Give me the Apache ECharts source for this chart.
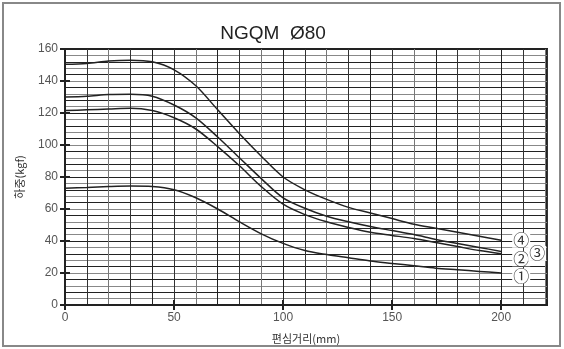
<!DOCTYPE html>
<html>
<head>
<meta charset="utf-8">
<script src="https://cdn.jsdelivr.net/npm/echarts@6/dist/echarts.min.js"></script>
<style>html,body{margin:0;padding:0;background:#fff;}#c{width:564px;height:349px;}</style>
</head>
<body>
<div id="c"></div>
<script>
var xValues = [0,10,20,30,40,50,60,70,80,90,100,110,120,130,140,150,160,170,180,190,200];
var curve1 = [73,73.5,74,74.3,74,72,67,60,52,44.5,38.5,34,31.5,29.5,27.5,26,24.5,23,22,21,20];
var curve2 = [121.5,122,122.5,123,121.5,117,110,99,87,74,63,56.5,52,48.5,45.5,43.5,41.5,39,36.5,34,32];
var curve3 = [130,130.5,131.5,131.7,130.5,125,117,105,92,79,67,60.5,55.5,52,49,46.5,44,41,38.5,36,33.5];
var curve4 = [150.5,151,152.5,153,152,147,137,122,107,93,80,72,66,61,57.5,54,50.5,48,45.5,43,40.5];
var curveNames = ['①','②','③','④'];
var yTicks = [0,20,40,60,80,100,120,140,160];
var xTicks = [0,50,100,150,200];

function pairs(ys){ return xValues.map(function(x,i){ return [x, ys[i]]; }); }

var chart = echarts.init(document.getElementById('c'), null, {renderer:'canvas'});
var lblBase = {show:true, fontFamily:'Noto Sans CJK KR', fontSize:16, color:'#333', backgroundColor:'#fff', padding:[0,1], lineHeight:15};
function mkSeries(name, data, offset){
  return {
    type:'line', name:name, data:pairs(data), smooth:0.3, symbol:'none',
    lineStyle:{color:'#222', width:1.5},
    endLabel: Object.assign({}, lblBase, {formatter:name, offset:offset}),
    z:5
  };
}
var option = {
  animation:false,
  title:{text:'NGQM  Ø80', left:268, top:19, textAlign:'center',
    textStyle:{fontFamily:'Liberation Sans', fontSize:19, fontWeight:'normal', color:'#222'}},
  grid:{left:65, right:17, top:49, bottom:40, show:true, borderColor:'#222', borderWidth:2},
  xAxis:[{
    type:'value', min:0, max:221, interval:50,
    name:'편심거리(mm)', nameLocation:'middle', nameGap:28,
    nameTextStyle:{fontFamily:'Noto Sans CJK KR', fontSize:11, color:'#333'},
    axisLine:{show:true, lineStyle:{color:'#222', width:2}},
    axisTick:{show:true, length:5, lineStyle:{color:'#222', width:2}},
    axisLabel:{fontFamily:'Liberation Sans', fontSize:12, color:'#555', margin:7,
      showMaxLabel:false,
      formatter:function(v){ return xTicks.indexOf(v)>=0 ? String(v) : ''; }},
    splitLine:{show:false}
  },{
    type:'value', min:0, max:221, interval:10, position:'bottom',
    axisLine:{show:false}, axisTick:{show:false}, axisLabel:{show:false},
    splitLine:{show:true, lineStyle:{color:['#222','#333','#777','#333','#222','#333','#777','#222','#333','#777'], width:1}}
  },{
    type:'value', min:0, max:221, interval:50, position:'bottom',
    axisLine:{show:false}, axisLabel:{show:false},
    axisTick:{show:true, inside:true, length:5, lineStyle:{color:'#222', width:2}},
    splitLine:{show:false}
  }],
  yAxis:[{
    type:'value', min:0, max:160, interval:20,
    name:'하중(kgf)', nameLocation:'middle', nameGap:40, nameRotate:90,
    nameTextStyle:{fontFamily:'Noto Sans CJK KR', fontSize:11, color:'#333'},
    axisLine:{show:true, lineStyle:{color:'#222', width:2}},
    axisTick:{show:true, length:5, lineStyle:{color:'#222', width:2}},
    axisLabel:{fontFamily:'Liberation Sans', fontSize:12, color:'#555', margin:7,
      formatter:function(v){ return yTicks.indexOf(v)>=0 ? String(v) : ''; }},
    splitLine:{show:false}
  },{
    type:'value', min:0, max:160, interval:4, position:'left',
    axisLine:{show:false}, axisTick:{show:false}, axisLabel:{show:false},
    splitLine:{show:true, lineStyle:{color:['#222','#888'], width:1}}
  },{
    type:'value', min:0, max:160, interval:20, position:'left',
    axisLine:{show:false}, axisLabel:{show:false},
    axisTick:{show:true, inside:true, length:5, lineStyle:{color:'#222', width:2}},
    splitLine:{show:false}
  }],
  graphic:[{type:'rect', shape:{x:3, y:3, width:557, height:343}, style:{fill:'none', stroke:'#888', lineWidth:2}, silent:true}],
  series:[
    mkSeries(curveNames[0], curve1, [3,3]),
    mkSeries(curveNames[1], curve2, [3,5]),
    mkSeries(curveNames[2], curve3, [19,2]),
    mkSeries(curveNames[3], curve4, [3,0])
  ]
};
chart.setOption(option);
</script>
</body>
</html>
